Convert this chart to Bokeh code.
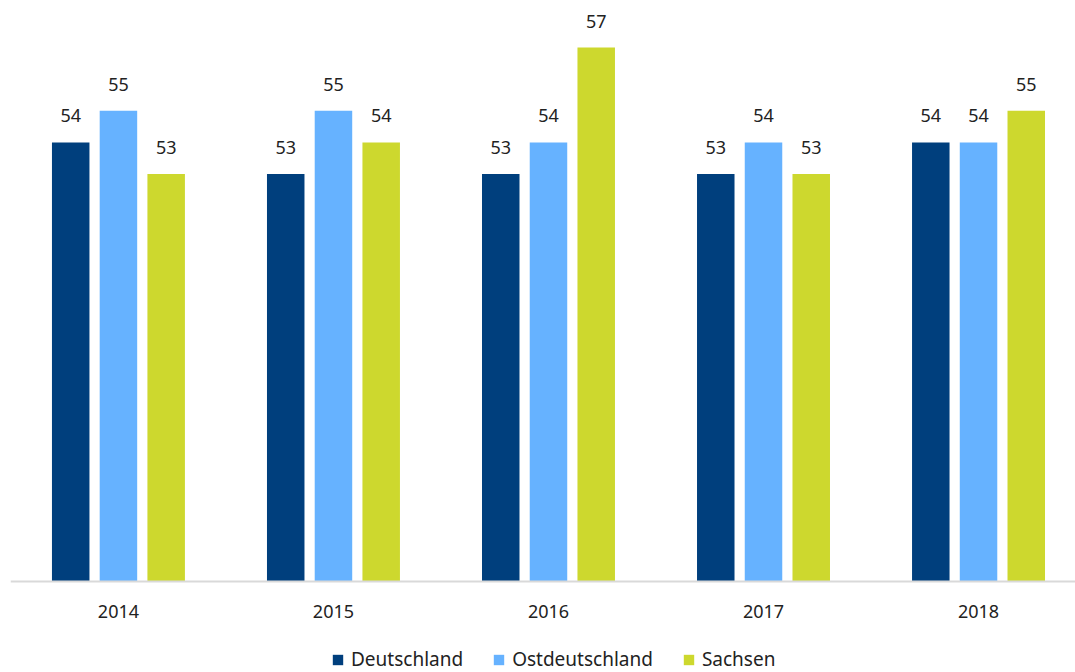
from bokeh.plotting import figure
from bokeh.models import ColumnDataSource, LabelSet, Legend, LegendItem, Range1d, Span
from bokeh.core.properties import value
from bokeh.embed import file_html
from bokeh.resources import INLINE

years = ["2014", "2015", "2016", "2017", "2018"]
series_names = ["Deutschland", "Ostdeutschland", "Sachsen"]
deutschland = [54, 53, 53, 53, 54]
ostdeutschland = [55, 55, 54, 54, 54]
sachsen = [53, 54, 57, 53, 55]
colors = ["#003f7d", "#66b2ff", "#cdd82e"]

FONT = "Noto Sans"
TXT = "#222222"
BASE = 40.12

p = figure(frame_width=1065, frame_height=662, output_backend="svg", toolbar_location=None,
           x_range=Range1d(-0.502, 4.451), y_range=Range1d(37.243, 58.17),
           min_border_left=10, min_border_right=0, min_border_top=10, min_border_bottom=0)
p.outline_line_color = None
p.grid.visible = False
p.axis.visible = False
p.background_fill_color = "white"
p.border_fill_color = "white"

xs = list(range(len(years)))
offsets = [-0.222, 0.0, 0.222]
items = []
for vals, name, col, off in zip([deutschland, ostdeutschland, sachsen], series_names, colors, offsets):
    src = ColumnDataSource(dict(x=[x + off for x in xs], top=vals, lab=[str(v) for v in vals]))
    r = p.vbar(x="x", top="top", bottom=BASE, width=0.1744, source=src,
               fill_color=col, line_color=None)
    items.append(LegendItem(label=name, renderers=[r]))
    p.add_layout(LabelSet(x="x", y="top", text="lab", source=src, y_offset=20,
                          text_align="center", text_baseline="alphabetic",
                          text_font=value(FONT), text_font_size=value("18px"), text_color=TXT))

p.add_layout(Span(location=BASE, dimension="width", line_color="#d9d9d9", line_width=2))

ysrc = ColumnDataSource(dict(x=xs, y=[BASE] * len(xs), lab=years))
p.add_layout(LabelSet(x="x", y="y", text="lab", source=ysrc, y_offset=-30,
                      text_align="center", text_baseline="middle",
                      text_font=value(FONT), text_font_size=value("18px"), text_color=TXT))

legend = Legend(items=items, orientation="horizontal", location=(321, 0),
                label_text_font=FONT, label_text_font_size="19px", label_text_color=TXT,
                glyph_width=13, glyph_height=13, label_standoff=7, spacing=29,
                border_line_color=None, background_fill_alpha=0, margin=0, padding=0,
                label_height=16)
p.add_layout(legend)

open("out.html", "w").write(file_html(p, INLINE))
